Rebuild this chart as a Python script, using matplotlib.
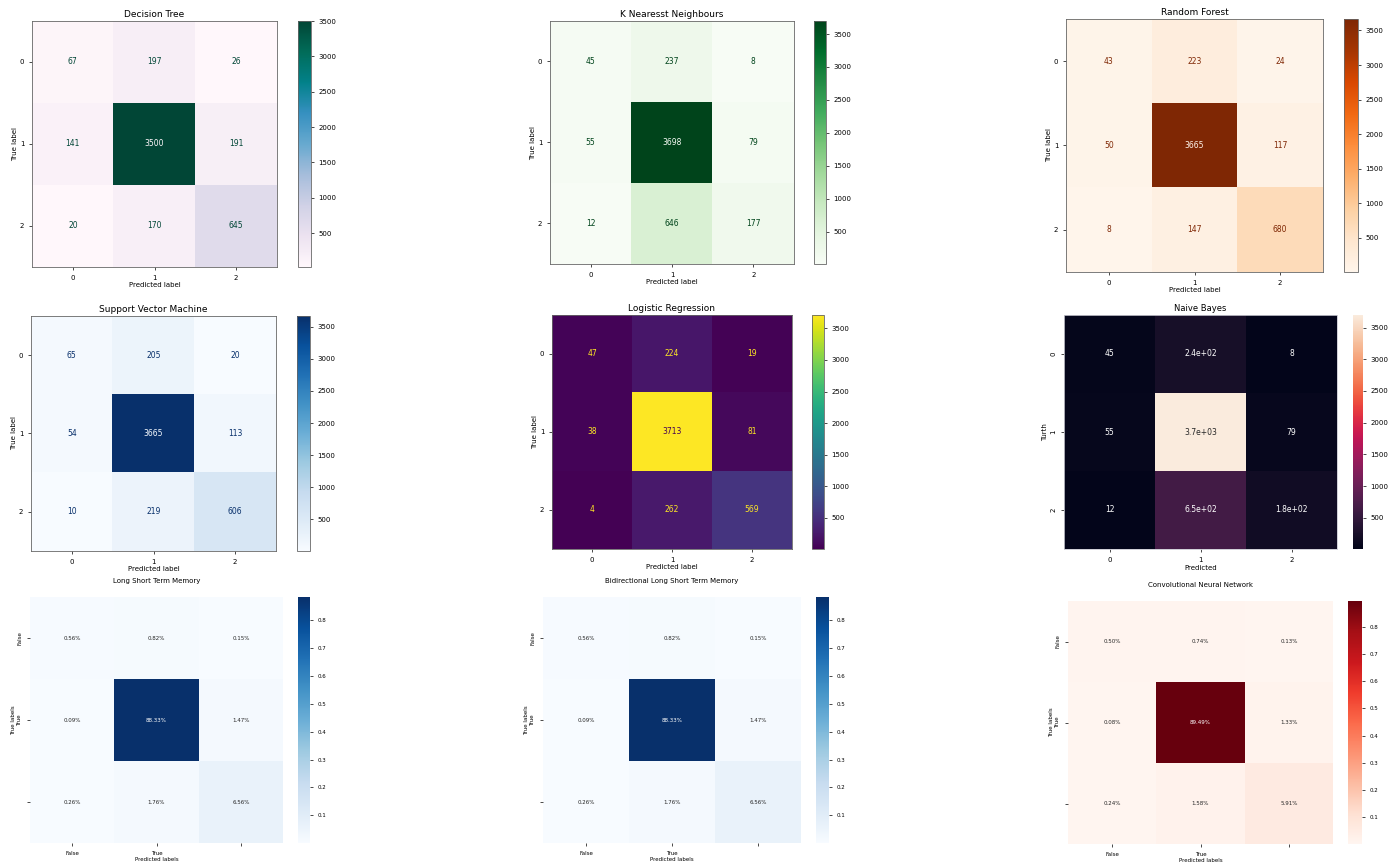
import numpy as np
import matplotlib
matplotlib.use("Agg")
import matplotlib.pyplot as plt
import seaborn as sns

# confusion matrices (counts)
dt_cm = [[67, 197, 26], [141, 3500, 191], [20, 170, 645]]
knn_cm = [[45, 237, 8], [55, 3698, 79], [12, 646, 177]]
rf_cm = [[43, 223, 24], [50, 3665, 117], [8, 147, 680]]
svm_cm = [[65, 205, 20], [54, 3665, 113], [10, 219, 606]]
lr_cm = [[47, 224, 19], [38, 3713, 81], [4, 262, 569]]
nb_cm = [[45, 237, 8], [55, 3698, 79], [12, 646, 177]]

# deep models, shown as percent of total
lstm_pct = [[0.56, 0.82, 0.15], [0.09, 88.33, 1.47], [0.26, 1.76, 6.56]]
bilstm_pct = [[0.56, 0.82, 0.15], [0.09, 88.33, 1.47], [0.26, 1.76, 6.56]]
cnn_pct = [[0.50, 0.74, 0.13], [0.08, 89.49, 1.33], [0.24, 1.58, 5.91]]

class_ticks = ["0", "1", "2"]
bool_ticks = ["False", "True", ""]

W, H = 1392, 863
fig = plt.figure(figsize=(W / 100, H / 100), dpi=100)

plt.rcParams["xtick.major.size"] = 2
plt.rcParams["ytick.major.size"] = 2
plt.rcParams["xtick.major.width"] = 0.5
plt.rcParams["ytick.major.width"] = 0.5
plt.rcParams["axes.linewidth"] = 0.6

FS = 5
EDGE = "#666666"


def box(x0, y0, x1, y1):
    # pixel box -> figure fraction
    return [x0 / W, 1 - y1 / H, (x1 - x0) / W, (y1 - y0) / H]


def sk_panel(cm, title, cmap, ax_px, cb_px):
    cm = np.array(cm)
    ax = fig.add_axes(box(*ax_px))
    cax = fig.add_axes(box(*cb_px))
    im = ax.imshow(cm, cmap=cmap, interpolation="nearest", aspect="auto")
    cmap_obj = im.cmap
    thresh = (cm.max() + cm.min()) / 2.0
    for i in range(3):
        for j in range(3):
            col = cmap_obj(1.0) if cm[i, j] < thresh else cmap_obj(0.0)
            ax.text(j, i, str(cm[i, j]), ha="center", va="center",
                    color=col, fontsize=5.5)
    cb = fig.colorbar(im, cax=cax)
    cb.ax.tick_params(labelsize=FS)
    cb.outline.set_linewidth(0.6)
    cb.outline.set_edgecolor(EDGE)
    for s in ax.spines.values():
        s.set_color(EDGE)
    ax.set_xticks(range(3))
    ax.set_yticks(range(3))
    ax.set_xticklabels(class_ticks)
    ax.set_yticklabels(class_ticks)
    ax.tick_params(labelsize=FS)
    ax.set_ylim(2.5, -0.5)
    ax.set_xlabel("Predicted label", fontsize=FS, labelpad=1)
    ax.set_ylabel("True label", fontsize=FS, labelpad=1)
    ax.set_title(title, fontsize=6.5, pad=3)


def sns_pct_panel(pct, title, cmap, ax_px, cb_px):
    vals = np.array(pct) / 100.0
    labels = [[f"{v:.2f}%" for v in row] for row in pct]
    ax = fig.add_axes(box(*ax_px))
    cax = fig.add_axes(box(*cb_px))
    sns.heatmap(vals, annot=labels, fmt="", cmap=cmap, ax=ax, cbar_ax=cax,
                annot_kws={"fontsize": 4})
    cax.tick_params(labelsize=4)
    ax.set_xticklabels(bool_ticks, fontsize=4)
    ax.set_yticklabels(bool_ticks, fontsize=4, rotation=90, va="center")
    ax.set_xlabel("Predicted labels", fontsize=4, labelpad=1)
    ax.set_ylabel("True labels", fontsize=4, labelpad=1)
    ax.set_title(title, fontsize=5, pad=10)


sk_panel(dt_cm, "Decision Tree", "PuBuGn", (32, 21, 277, 267), (298, 21, 311, 267))
sk_panel(knn_cm, "K Nearesst Neighbours", "Greens", (550, 21, 794, 264), (814, 21, 826, 264))
sk_panel(rf_cm, "Random Forest", "Oranges", (1066, 19, 1323, 272), (1344, 19, 1358, 272))
sk_panel(svm_cm, "Support Vector Machine", "Blues", (31, 316, 276, 551), (297, 316, 310, 551))
sk_panel(lr_cm, "Logistic Regression", "viridis", (552, 315, 792, 549), (812, 315, 824, 549))

# naive bayes drawn as a seaborn heatmap
ax_nb = fig.add_axes(box(1064, 315, 1337, 549))
cax_nb = fig.add_axes(box(1353, 315, 1363, 549))
sns.heatmap(np.array(nb_cm), annot=True, ax=ax_nb, cbar_ax=cax_nb,
            annot_kws={"fontsize": 5.5})
ax_nb.tick_params(labelsize=FS)
ax_nb.set_yticklabels(class_ticks, rotation=90, va="center")
cax_nb.tick_params(labelsize=FS)
ax_nb.set_xlabel("Predicted", fontsize=FS, labelpad=2)
ax_nb.set_ylabel("Turth", fontsize=FS, labelpad=2)
ax_nb.set_title("Naive Bayes", fontsize=6, pad=3)
for s in ax_nb.spines.values():
    s.set_visible(True)
    s.set_color("#c8c8d0")

sns_pct_panel(lstm_pct, "Long Short Term Memory", "Blues", (30, 597, 283, 843), (298, 597, 310, 843))
sns_pct_panel(bilstm_pct, "Bidirectional Long Short Term Memory", "Blues", (543, 597, 801, 843), (816, 597, 829, 843))
sns_pct_panel(cnn_pct, "Convolutional Neural Network", "Reds", (1068, 601, 1333, 844), (1348, 601, 1362, 844))

fig.savefig("out.png", dpi=100)
